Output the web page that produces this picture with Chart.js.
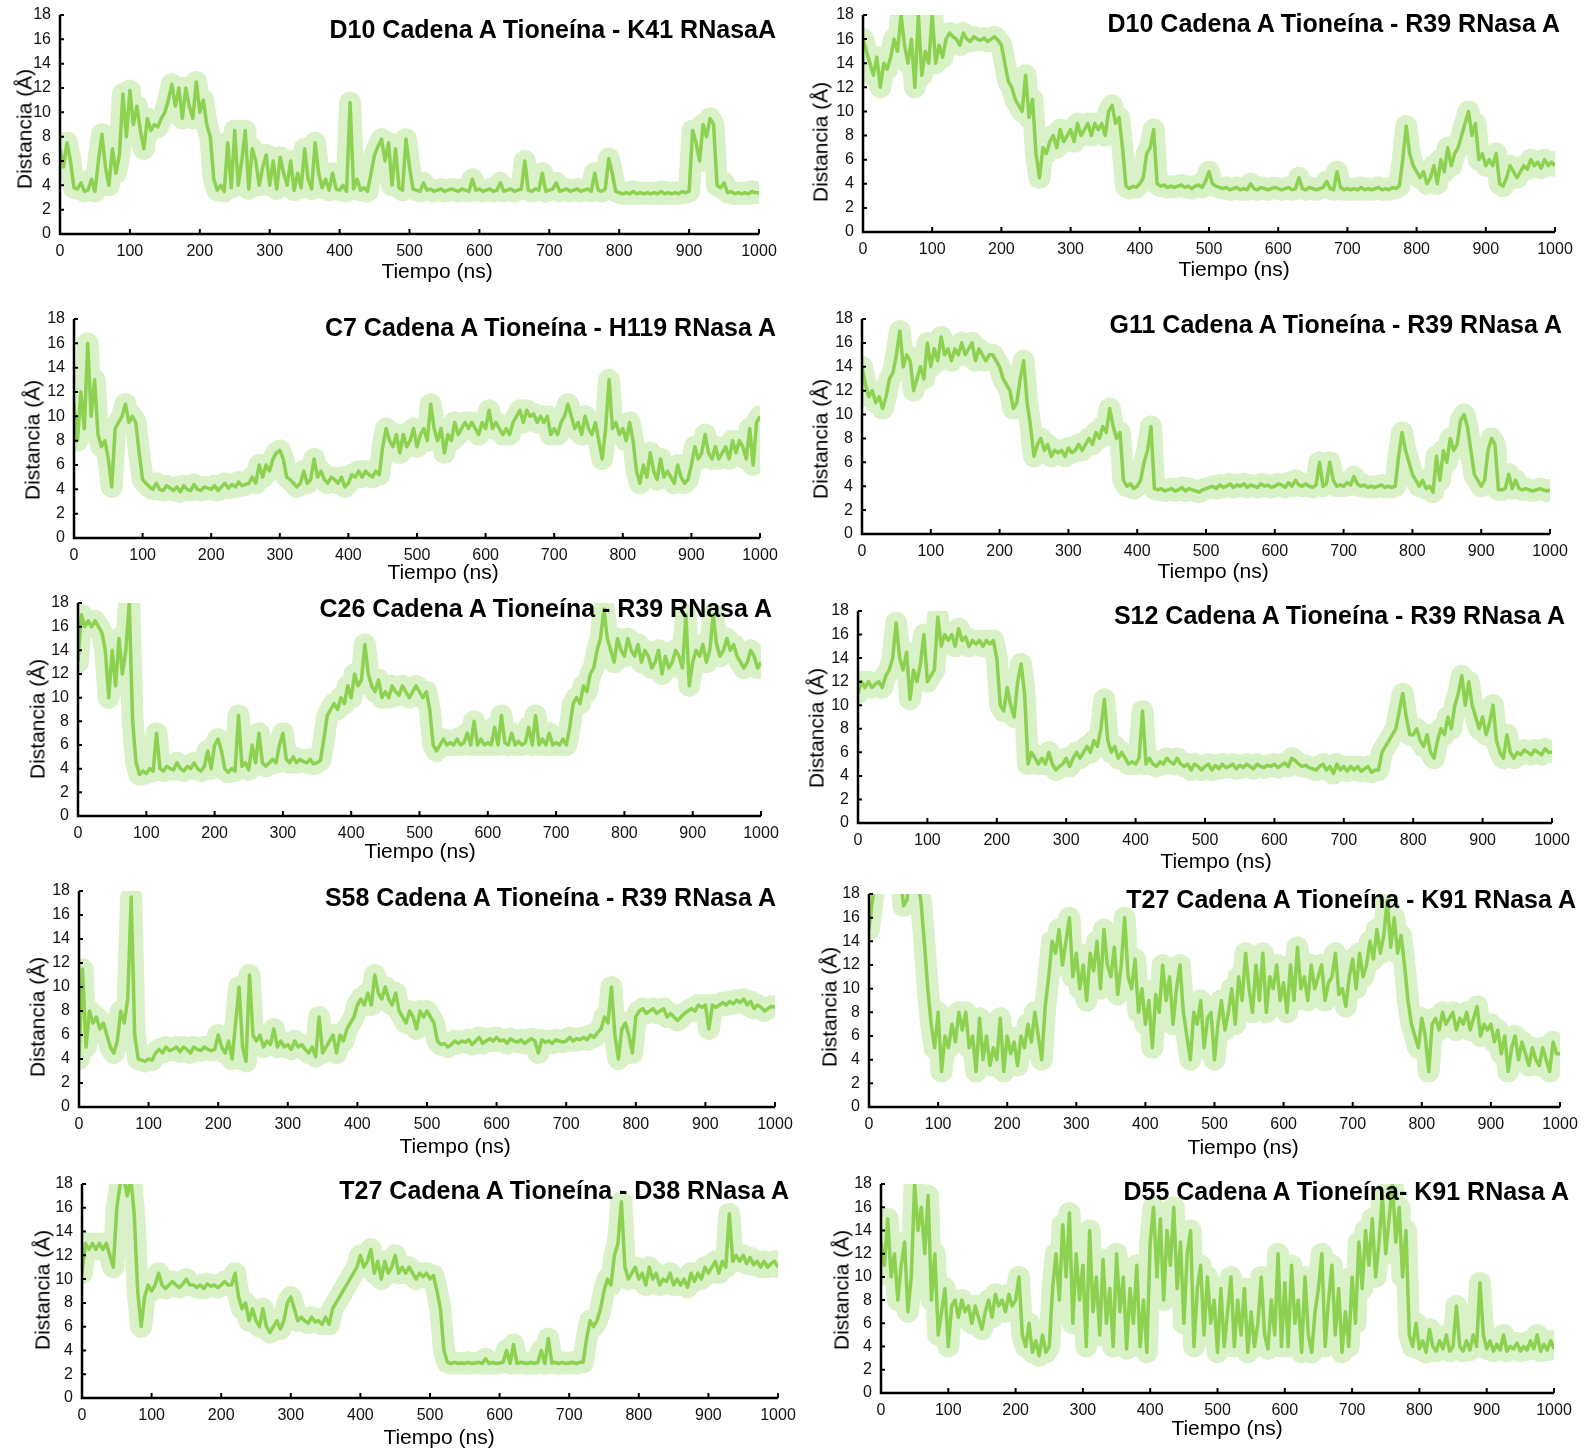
<!DOCTYPE html>
<html><head><meta charset="utf-8">
<script src="https://cdn.jsdelivr.net/npm/chart.js@4.4.1/dist/chart.umd.min.js"></script>
<style>
html,body{margin:0;padding:0;background:#fff;}
body{width:1586px;height:1450px;position:relative;overflow:hidden;font-family:"Liberation Sans",Arial,sans-serif;color:#000;}
.panel{position:absolute;}
.ttl{position:absolute;font-weight:bold;font-size:25px;line-height:1;white-space:nowrap;transform:translateY(-50%);}
.xt{position:absolute;font-size:21px;line-height:1;white-space:nowrap;transform:translate(-50%,-50%);}
.yt{position:absolute;font-size:21px;line-height:1;white-space:nowrap;transform:translate(-50%,-50%) rotate(-90deg);}
</style></head><body>
<script>
// ---------- data ----------
const xTickValues = [0,100,200,300,400,500,600,700,800,900,1000];
const yTickValues = [0,2,4,6,8,10,12,14,16,18];
const sampleStepNs = 5;
const xAxisLabel = 'Tiempo (ns)';
const yAxisLabel = 'Distancia (Å)';
const panelTitles = [
  'D10 Cadena A Tioneína - K41 RNasaA',
  'D10 Cadena A Tioneína - R39 RNasa A',
  'C7 Cadena A Tioneína - H119 RNasa A',
  'G11 Cadena A Tioneína - R39 RNasa A',
  'C26 Cadena A Tioneína - R39 RNasa A',
  'S12 Cadena A Tioneína - R39 RNasa A',
  'S58 Cadena A Tioneína - R39 RNasa A',
  'T27 Cadena A Tioneína - K91 RNasa A',
  'T27 Cadena A Tioneína - D38 RNasa A',
  'D55 Cadena A Tioneína- K91 RNasa A'
];

const d10K41 = [
 7,5.5,7.5,6,3.8,3.7,4.2,3.5,3.6,4.5,
 3.5,6,8.2,5.5,4,7,5,6.5,11.5,8,
 11.8,9,10.5,8.5,7,9.5,8.5,9,8.8,9.5,
 10,11,12.3,10.5,12,9.5,12,10.5,9.5,12.5,
 10,11,9,8,4.5,3.6,4,3.5,7.5,3.8,
 8.5,4,6,8.5,3.7,7,6,4,5.5,6.5,
 4,6,3.7,6.3,5,4,6,3.6,5,3.8,
 7,4.5,3.7,7.5,5,3.8,4.5,3.6,5,3.7,
 3.6,4,3.5,10.8,3.7,4.5,3.6,3.8,3.5,5,
 6.5,7.2,7.8,6,7.5,4,7,3.8,3.6,7.8,
 5.5,3.7,3.6,3.5,4.2,3.6,3.7,3.5,3.6,3.7,
 3.5,3.6,3.7,3.6,3.5,3.7,3.6,3.5,4.5,3.6,
 3.7,3.5,3.6,3.7,3.5,3.6,4.2,3.5,3.6,3.7,
 3.5,3.6,3.7,6,3.6,3.5,3.7,3.6,5,3.5,
 3.6,3.7,4.2,3.5,3.6,3.7,3.5,3.6,3.7,3.5,
 3.6,3.7,3.5,5,3.6,3.5,3.7,6.2,5,3.5,
 3.4,3.3,3.4,3.3,3.5,3.3,3.4,3.3,3.4,3.3,
 3.4,3.3,3.5,3.3,3.4,3.3,3.4,3.3,3.5,3.4,
 3.5,8.5,7.5,6,9,8,9.5,9,4,3.8,
 4.2,3.4,3.5,3.3,3.4,3.3,3.4,3.3,3.5,3.4,
 3.4];

const d10R39 = [
 16,15,14,13,14.5,12,14,13.5,14.5,16,
 15,18,15.5,14,16,12,18,13,15,14,
 18,14,15.5,14.5,16,16.5,16.2,16,15.5,16.5,
 16,15.8,16.2,16,15.9,16.1,15.8,16,16.2,15.9,
 15.5,14,12.5,12,11,10.5,10,13,9.5,11,
 6.5,4.5,7,6.5,7.5,8,7,8.5,7.5,8,
 8.5,7.5,9,8,8.5,9,8,9,8.5,9,
 8,10,10.5,9,9.5,7,3.8,3.6,3.8,3.7,
 4,4.5,6.5,7,8.5,4,3.8,3.9,3.7,3.8,
 3.7,3.8,3.9,3.7,3.8,3.6,3.8,3.9,3.7,4.2,
 5,4,3.8,3.7,3.6,3.7,3.5,3.6,3.7,3.5,
 3.6,3.5,4,3.6,3.5,3.7,3.6,3.5,3.6,3.7,
 3.6,3.5,3.6,3.7,3.5,3.6,4.5,3.6,3.5,3.7,
 3.6,3.5,3.6,3.7,4.2,3.6,3.5,5,3.7,3.5,
 3.6,3.5,3.6,3.5,3.7,3.5,3.6,3.5,3.6,3.7,
 3.5,3.6,3.5,3.7,3.6,3.8,6,8.8,6.5,5.5,
 5,4.5,5,4,4.5,5.5,4,6,5,7,
 5.5,6.5,7,8,9,10,8,9,6,6.5,
 5.5,6,5.5,6.5,4,3.8,4.5,5.5,5,4.5,
 5,5.5,5.2,6,5.5,5.8,5.3,6,5.5,5.8,
 5.5];

const c7H119 = [
 11,8,12,9,16,10,13,8.5,7.5,8,
 6.5,4.2,9,9.5,10,11,9.5,10,9.5,7,
 4.8,4.5,4.2,4,4.5,4,3.9,4.3,4.1,3.9,
 4.2,3.8,4.3,4,3.9,4.4,4,3.9,4.2,4.1,
 4,4.3,3.9,4.2,4.5,4.1,4.4,4.2,4.6,4.3,
 4.4,4.5,5,4.5,6,5,6,5.5,6.5,7,
 7.2,6.5,5,4.8,4.5,4.2,4.5,5.5,4.5,4.8,
 6.5,5,5.5,4.8,4.5,5,4.8,4.5,5,4.2,
 4.5,5.2,5,5.5,5,5.5,5.2,5,5.5,5.2,
 7.5,9,8,7.5,8.5,7,8.5,7.5,8,9,
 7.5,8.5,9,8,11,9,8,9,7,8.5,
 8,9.5,8.5,9,9.5,9,9.5,9,8.5,9.5,
 9,10.5,9,9.5,9,8.5,9,8.5,9.5,10,
 10.5,9.5,10.5,10,10.2,9.5,10,9.5,10,8.5,
 9,8.5,9.5,10,11,10,9,9.5,8.5,10,
 9,8.5,9.5,8,6.5,9,13,9,9.5,8.5,
 9,8,9.5,8,5.5,4.5,6,5,7,5.5,
 4.8,6.5,5,5.5,5,4.5,6,5,4.5,4.8,
 6,7.5,6.5,7,8.5,7,6.5,7.5,6.5,7,
 7.5,6.5,8,7,8,7.5,6.5,9,6,9.5,
 10];

const g11R39 = [
 14,12.5,11.5,12,11,11.5,10.5,11.5,13,13.5,
 15,17,14,15,14.5,12,13,14,13,16,
 14,15.5,14.5,16.5,15,15.5,14.5,15.5,15,16,
 15,15.5,16,14.5,15.5,15,14.5,15,15,14.5,
 14,13,12.5,12,10.5,11,13,14.5,11,9,
 6.5,7.5,8,7,7.5,6.5,7,6.8,7,6.5,
 7.2,6.8,7,7.5,7,7.5,8,7.5,8.5,8,
 9,8.5,10.5,9,8,8.5,4.5,4,4.2,3.8,
 4,4.5,6,7,9,3.8,3.7,3.8,3.6,3.7,
 3.8,3.6,3.7,3.9,3.6,3.8,3.7,3.6,3.5,3.7,
 3.8,3.9,4,3.8,4.1,3.9,4,4.2,3.9,4.1,
 4,4.2,3.9,4.1,4,3.9,4.2,4,4.1,3.9,
 4,4.2,4.1,3.9,4.3,4,4.5,4.1,4,4.2,
 4,3.9,4.1,6,4,4.2,6,4.5,4,4.1,
 4,4.3,4.1,4.8,4.2,4,4.1,3.9,4,3.9,
 4,4.1,3.9,4,3.9,4,6.5,8.5,7,6,
 5,4.5,4,4.5,3.8,4,3.5,6.5,4.5,7,
 6,8,7,7.5,9.5,10,9,7,5,4.5,
 4,4.5,7,8,7.5,3.7,3.7,3.8,5,3.8,
 4.5,3.8,3.7,3.8,3.7,3.6,3.7,3.8,3.7,3.6,
 3.7];

const c26R39 = [
 13,17,16,16.5,16,16.5,16,15.5,14,10,
 14,11,15,12,14,18,8,4.5,3.5,3.8,
 3.6,4,3.8,7,4,3.8,4.2,4,3.9,4.5,
 4,3.8,4.2,4,4.5,4,3.8,4.2,5.5,4,
 6,6.5,5.5,4,3.7,4,3.8,8.5,4.2,4.5,
 3.9,6,4.5,7,4.5,4.2,4.5,4.8,4.5,6,
 7,4.8,4.5,5,4.5,4.8,4.6,4.5,4.8,4.4,
 4.5,4.7,6.5,8.5,9,9.5,9,10,9.5,11,
 10,12,11,11.5,14.5,12,11,10.5,11.5,10,
 10.5,10,11,10.5,10.2,11,10.5,10,10.5,11,
 10.5,10,10.5,9,6,5.5,6,6.5,6,6.2,
 6,6.5,6,6.2,7,6,8,6,6.5,6,
 6.2,6,7.5,6,8.5,6.2,6,7,6,6.3,
 6,6.2,7.5,6,8.5,6,6.5,6,7,6,
 6.2,6,6.5,6,7.5,9.5,10,9.5,11,10.5,
 12,12.5,14,15,17.5,15,14,13,15,14,
 13.5,15,14,13.5,14.5,13,14,13.5,12.5,13,
 14,12,13.5,12.5,13,14,13.5,12.5,17,11,
 13,14,13.5,14.5,13,14,17,14.5,13.5,14,
 15,14,14.5,13.5,13,12.5,13,14,13.5,12.5,
 13];

const s12R39 = [
 11,12,11.5,12,11.5,11.8,12,11.5,12.5,13,
 14,17,14,13,14.5,10.5,13,12,13.5,16,
 12,12.5,13,17.5,15,16,15.5,16,15,16.5,
 15.5,15.8,15,15.5,15.2,15.5,15,15.5,15.2,15.5,
 14,10,9.5,11.5,10,9,12,13.5,11,5,
 6,5.5,5,5.5,5,6,5,4.5,4.8,5,
 5.5,4.8,5.5,6,5.5,6,6.5,6,7,6.5,
 8,10.5,7,6,6.5,5.5,6,5.5,5,5.2,
 5,5.5,9.5,5,5.5,5,4.8,5.2,5,5.5,
 5.2,5,5.5,5,4.8,5,4.5,5,4.8,4.5,
 4.8,5,4.5,4.9,4.6,5,4.7,4.8,5,4.6,
 4.9,4.7,5,4.8,4.6,5,4.8,4.7,4.9,4.8,
 5,4.7,4.9,5.1,4.8,5.5,5.3,5,4.8,4.9,
 4.7,4.6,4.5,4.8,5,4.5,4.8,4.2,5,4.5,
 4.8,4.4,4.8,4.5,4.8,4.4,4.6,4.8,4.3,4.5,
 4.5,6,6.5,7,7.5,8,9.5,11,9,7.5,
 7.5,8,7,6.5,7.5,6,5.5,7,8,7.5,
 9,8,10,11,12.5,10,12,10,9,8,
 9,7.5,8.5,10,7,6,5.5,7.5,6,5.5,
 6,5.8,6.2,6,5.8,6.2,6,5.8,6.3,6,
 6];

const s58R39 = [
 4,11.5,5,8,7,7.5,6.5,7,6,5,
 4.5,5.5,8,7,9,17.5,6,4,3.9,3.8,
 4,3.9,4.5,4.8,4.5,5,4.7,4.8,5,4.6,
 5,4.8,4.5,5,4.8,4.7,5,4.8,4.7,4.8,
 6,5,4.5,5.5,4,7,10,5,3.8,11,
 6,5.5,6,5,5.5,5.2,6.5,5,5.5,5,
 5.2,4.8,5.5,5,5.2,4.8,4.5,5,4.2,7.5,
 4.5,5,5.5,6,4.5,6,5.5,6.5,7,7.5,
 8.5,9,8.5,9.5,8.5,11,9.5,9,10,9,
 8.5,9.5,8,7.5,7,8,7.5,6.5,8,7.5,
 8,7.5,7,5.5,5.2,5.3,5,5.2,5.5,5.3,
 5.5,5.4,5.6,5.2,5.5,5.8,5.3,5.5,5.7,5.5,
 5.8,5.5,5.6,5.3,5.7,5.5,5.4,5.6,5.3,5.5,
 5.7,5.5,4.5,5.6,5.4,5.5,5.3,5.6,5.5,5.4,
 5.5,5.8,5.5,5.7,5.6,5.8,5.6,6,5.8,6.2,
 6.5,7.5,7,10,6,4,6.5,7,6,4.5,
 7.5,8,8.2,7.8,8,8.2,7.8,8,8.2,7.5,
 7.8,7.5,7.2,7.5,7.8,8,8.2,8,8.5,8.3,
 8.5,6.5,8.5,8.3,8.5,8.7,8.5,8.8,8.6,8.9,
 8.7,9,8.5,8.8,8.2,8.5,8.3,8,8.2,8.4,
 8.3];

const t27K91 = [
 15,17.5,19,20,20,20,20,20,20,20,
 17,17.5,20,20,19,17.5,14,10,7,5,
 8,3,6,5,7,5.5,8,6.5,8,5,
 6,3,7.5,4,6,3.5,5,4,7.5,3,
 6,4.5,5.5,3.5,6,5,7,5.5,8,6,
 4,8.5,11,14,13,15,12,14,16,11,
 13,10,12,9,13,11.5,14,10,15,12,
 11,13.5,9.5,12,16,11,10,12.5,8,10,
 7,9,5,9.5,8,12,9,11,7,10,
 12,8,6,4,8,7,9,5,7.5,8,
 4,7,9,6.5,8,10,7,11,9,13,
 10,8,12,9,13,8,11,10,12,9,
 10.5,8,12,9,13.5,10,11,9,12,10,
 11,12,9,10.5,11,13,9.5,10,8.5,11,
 12.5,10,13,11,12,14,12.5,15,13,14.5,
 17.5,13.5,16,13,14.5,12,9,7,6,5,
 7.5,6,3,7,7.5,6.5,8,7,7.5,8,
 6.5,7.5,7,8,6.5,7.5,8.5,6,7,6.5,
 7,5.5,6.5,4.5,6,3,5,6,4,5.5,
 4.5,3.5,5,4,3.5,5,4,3,5.5,4.5,
 4.5];

const t27D38 = [
 10.5,13,12.5,13,12.5,13,12.5,13,12,11,
 16,18,18.5,17,18.5,15.5,9,6,8.5,9.5,
 9,9.5,10.5,9.5,9.2,9.5,9.8,9.5,9.3,9.6,
 10,9.5,9.5,9.3,9.5,9.2,9.6,9.4,9.5,9.3,
 9.5,9.8,9.5,9.5,10.5,8.5,7.5,8,6.5,7.5,
 6.5,6,7.5,6,5.5,6,6.5,5.8,6.5,8,
 8.5,7.5,6.5,6.8,6.5,6.3,6.8,6.4,6.5,6.2,
 6.8,6.2,7.5,8,8.5,9,9.5,10,10.5,11,
 12,11,11.5,12.5,10.5,11.5,10,11.5,10.5,11,
 12,10.5,11,10.5,11,10.5,10,10.5,10.2,10.5,
 10,10.3,9,7.5,4,3,2.9,3,2.9,2.95,
 2.9,3,2.9,2.95,3,2.9,3.3,2.9,3,2.9,
 2.95,3,4,2.9,4.5,2.9,3,2.95,2.9,3,
 2.9,3,4,2.9,5,2.95,3,2.9,3,2.9,
 2.95,3,2.9,3,3,5,6.5,6,6.5,7.5,
 9,10,9.5,12,13,16.5,11,10,10.5,11,
 10,10.5,9.5,11,10,10.5,9.5,10,9.8,10.5,
 9.5,10,9.5,10,9.3,10.5,9.8,10.5,10,11,
 10.5,11,11.5,10.5,11.5,11,15.5,11.5,12,11.5,
 12,11.3,11.8,11.2,11.5,11,11.5,11,11.3,11.5,
 11];

const d55K91 = [
 13,11,15,10,12,8,11,13,7,10,
 18,14,16,12,17,8,12,5,7,9,
 4,7.5,8,6.5,8,7,7.5,6,7.5,6.5,
 5.5,7,8,6.5,8.5,7.5,8,7,8.5,7.5,
 8,10,5,4,6,3.5,4.5,3.2,5,3.5,
 4,9,12,8,14.5,10,15.5,6,12,8,
 11,4,14,7,10,5,11.5,6,9,4,
 12,7,10,3.8,9,6,11,4,8,3.5,
 13,16,10,15,8,14,11,16,9,13,
 6,12,14,4,9,11,5,10,6,8,
 3.5,9,4,7,10,4,8,5,9,3.5,
 7,4,6,10,5,3.8,8,5,12,4,
 9.5,4,11,6,8,3.5,10,5,3.5,7,
 9,12,4,8,11,5,9,3.5,7,4,
 10,6,13,9,14,11,15,10,13,17,
 12,15,18,13,16,10,14,5,4,6,
 3.8,4.5,3.5,5.5,4,3.6,4.5,3.8,5,3.6,
 4,7.5,4,3.6,4.5,3.7,5,4,9.5,5,
 3.8,4.5,3.6,4.2,3.7,5,3.6,4,3.8,4.3,
 3.6,4,3.7,4.5,3.8,5,3.6,4.2,3.7,4.5,
 3.8];

const seriesList = [d10K41, d10R39, c7H119, g11R39, c26R39, s12R39, s58R39, t27K91, t27D38, d55K91];

// ---------- layout (pixel positions of each panel) ----------
const layouts = [
 {l:60, r:759, t:15, b:234, tr:776, ty:29, xtx:437, xty:270, ytx:24, yty:129},
 {l:863,r:1555,t:15, b:232, tr:1560,ty:23, xtx:1234,xty:268, ytx:820,yty:142},
 {l:74, r:760, t:319,b:538, tr:776, ty:327,xtx:443, xty:571, ytx:32, yty:440},
 {l:862,r:1550,t:319,b:534, tr:1562,ty:324,xtx:1213,xty:570, ytx:820,yty:439},
 {l:78, r:761, t:603,b:816, tr:772, ty:608,xtx:420, xty:850, ytx:37, yty:719},
 {l:858,r:1552,t:611,b:823, tr:1565,ty:615,xtx:1216,xty:860, ytx:816,yty:728},
 {l:79, r:775, t:891,b:1107,tr:776, ty:897,xtx:455, xty:1145,ytx:37, yty:1017},
 {l:869,r:1560,t:894,b:1107,tr:1576,ty:899,xtx:1243,xty:1146,ytx:829,yty:1007},
 {l:82, r:778, t:1184,b:1398,tr:789,ty:1190,xtx:439,xty:1436,ytx:42, yty:1290},
 {l:881,r:1554,t:1184,b:1393,tr:1569,ty:1191,xtx:1227,xty:1427,ytx:841,yty:1290}
];

const BAND = 'rgb(216,241,199)';
const LINE = 'rgb(140,210,80)';
const YW = 60, XH = 55, PT = 12, PR = 30;
Chart.defaults.font.family = "'Liberation Sans', Arial, sans-serif";

const axesPlugin = {
  id: 'axesPlugin',
  afterDatasetsDraw(chart) {
    const {ctx, chartArea: a, scales: {x, y}} = chart;
    ctx.save();
    ctx.strokeStyle = '#000';
    ctx.lineCap = 'butt';
    ctx.lineWidth = 2;
    ctx.beginPath();
    x.ticks.forEach(t => { if (t.value > 0) { const px = x.getPixelForValue(t.value); ctx.moveTo(px, a.bottom); ctx.lineTo(px, a.bottom - 5); } });
    y.ticks.forEach(t => { if (t.value > 0) { const py = y.getPixelForValue(t.value); ctx.moveTo(a.left, py); ctx.lineTo(a.left + 4, py); } });
    ctx.stroke();
    ctx.lineWidth = 2.5;
    ctx.beginPath();
    ctx.moveTo(a.left, a.top);
    ctx.lineTo(a.left, a.bottom);
    ctx.lineTo(a.right, a.bottom);
    ctx.stroke();
    ctx.restore();
  }
};

function addText(cls, text, style) {
  const d = document.createElement('div');
  d.className = cls;
  d.textContent = text;
  Object.assign(d.style, style);
  document.body.appendChild(d);
}

layouts.forEach((lay, i) => {
  const w = lay.r - lay.l + YW + PR;
  const h = lay.b - lay.t + PT + XH;
  const div = document.createElement('div');
  div.className = 'panel';
  div.style.left = (lay.l - YW) + 'px';
  div.style.top = (lay.t - PT) + 'px';
  div.style.width = w + 'px';
  div.style.height = h + 'px';
  const c = document.createElement('canvas');
  c.width = w; c.height = h;
  c.style.width = w + 'px'; c.style.height = h + 'px';
  div.appendChild(c);
  document.body.appendChild(div);

  const vals = seriesList[i];
  const linePts = vals.map((v, k) => ({x: k * sampleStepNs, y: v}));
  const bandPts = vals.map((v, k) => ({x: k * sampleStepNs, y: v}));
  new Chart(c, {
    type: 'line',
    data: {datasets: [
      {data: linePts, order: 0, borderColor: LINE, borderWidth: 3.5, pointRadius: 0, tension: 0, clip: 0,
       borderJoinStyle: 'round', fill: false},
      {data: bandPts, order: 1, borderColor: BAND, borderWidth: 22, pointRadius: 0, tension: 0, clip: 0,
       borderJoinStyle: 'round', borderCapStyle: 'round', fill: false}
    ]},
    options: {
      responsive: false, animation: false, devicePixelRatio: 1,
      layout: {padding: {top: PT, right: PR, left: 0, bottom: 0}},
      plugins: {legend: {display: false}, tooltip: {enabled: false}},
      scales: {
        x: {type: 'linear', min: 0, max: 1000,
            afterBuildTicks(s) { s.ticks = xTickValues.map(v => ({value: v})); },
            afterFit(s) { s.height = XH; s.paddingLeft = 0; s.paddingRight = 0; },
            ticks: {color: '#111', font: {size: 16}, padding: 8, maxRotation: 0, autoSkip: false,
                    callback: v => String(v)},
            grid: {display: false, drawTicks: false},
            border: {display: false}},
        y: {type: 'linear', min: 0, max: 18,
            afterBuildTicks(s) { s.ticks = yTickValues.map(v => ({value: v})); },
            afterFit(s) { s.width = YW; s.paddingTop = 0; s.paddingBottom = 0; },
            ticks: {color: '#111', font: {size: 16}, padding: 9, autoSkip: false,
                    callback: v => String(v)},
            grid: {display: false, drawTicks: false},
            border: {display: false}}
      }
    },
    plugins: [axesPlugin]
  });

  addText('ttl', panelTitles[i], {right: (1586 - lay.tr) + 'px', top: lay.ty + 'px'});
  addText('xt', xAxisLabel, {left: lay.xtx + 'px', top: lay.xty + 'px'});
  addText('yt', yAxisLabel, {left: lay.ytx + 'px', top: lay.yty + 'px'});
});
</script>
</body></html>
